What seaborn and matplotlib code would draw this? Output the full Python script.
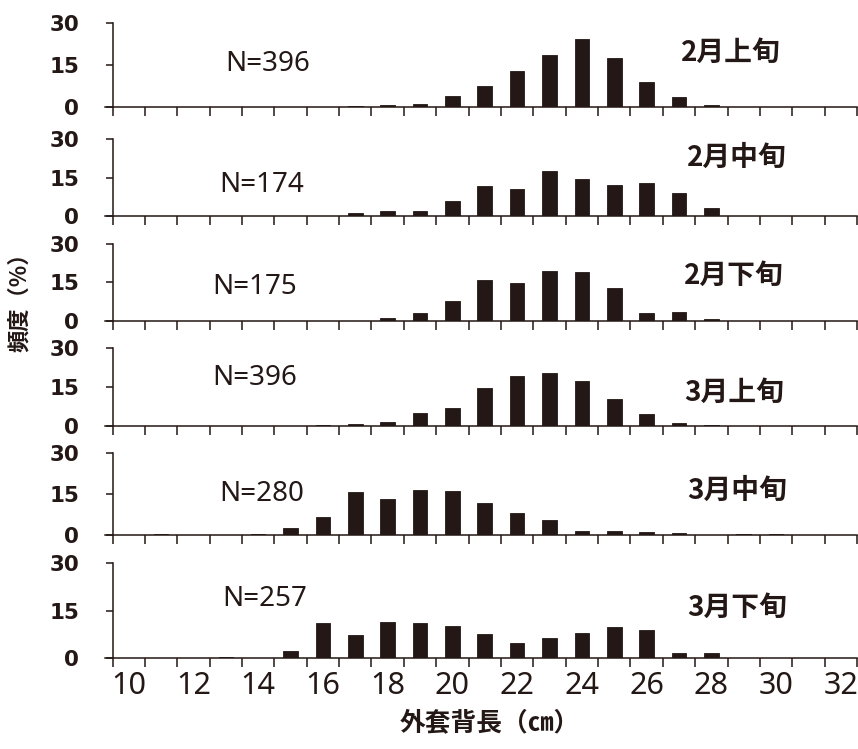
import numpy as np
import pandas as pd
import matplotlib
matplotlib.use("Agg")
import matplotlib.pyplot as plt
import seaborn as sns

sns.set_style("ticks")
plt.rcParams['font.family'] = ['DejaVu Sans', 'Noto Sans CJK JP']

# ---------------- data ----------------
lengths = list(range(10, 33))          # 外套背長 (cm) categories
tick_labels = ["10", "12", "14", "16", "18", "20", "22", "24", "26", "28", "30", "32"]
periods = ["2月上旬", "2月中旬", "2月下旬", "3月上旬", "3月中旬", "3月下旬"]
n_labels = ["N=396", "N=174", "N=175", "N=396", "N=280", "N=257"]

#              10 11 12 13 14 15  16    17    18    19    20    21    22    23    24    25    26   27   28   29    30   31 32
feb_early  = [0, 0, 0, 0, 0, 0,   0,    0.35, 0.7,  1.2,  4.2,  7.7,  13.0, 18.8, 24.3, 17.5, 9.0, 3.6, 0.8, 0.25, 0,   0, 0]
feb_mid    = [0, 0, 0, 0, 0, 0,   0,    1.3,  1.8,  1.8,  6.0,  11.7, 10.6, 17.6, 14.6, 12.3, 12.9, 8.9, 3.1, 0,  0,   0, 0]
feb_late   = [0, 0, 0, 0, 0, 0,   0,    0,    1.2,  2.9,  7.6,  15.9, 14.9, 19.6, 18.9, 12.7, 2.9, 3.4, 0.5, 0,   0,   0, 0]
mar_early  = [0, 0, 0, 0, 0, 0,   0.25, 0.8,  1.5,  5.1,  6.9,  14.4, 19.0, 20.2, 17.1, 10.2, 4.5, 1.0, 0.25, 0,  0,   0, 0]
mar_mid    = [0, 0.5, 0, 0, 0.5, 2.5, 6.5, 15.6, 13.3, 16.3, 16.0, 11.6, 8.1, 5.4, 1.7, 1.7, 1.2, 1.0, 0, 0.5, 0.5, 0, 0]
mar_late   = [0, 0, 0, 0.5, 0, 2.2, 11.1, 7.3, 11.5, 11.1, 10.2, 7.6, 4.7, 6.4, 8.1, 9.9, 8.8, 1.8, 1.8, 0,   0,   0, 0]

series = [feb_early, feb_mid, feb_late, mar_early, mar_mid, mar_late]

# annotation positions (category index, %)
n_pos = [(4.3, 15.6), (4.1, 12.2), (3.9, 13.2), (3.9, 18.2), (4.1, 15.0), (4.2, 18.6)]
p_pos = [(18.6, 19.6), (18.8, 22.7), (18.7, 17.6), (18.7, 12.6), (18.8, 16.0), (18.8, 15.9)]

# panel pixel extents (top of 30, baseline)
panel_px = [(23.3, 107.3), (139.3, 216.0), (244.0, 320.7), (347.7, 426.0), (452.7, 535.3), (563.3, 658.3)]

W, H = 858, 749
INK = '#231815'
fig = plt.figure(figsize=(W / 100, H / 100), dpi=100)

left_px, right_px = 105.4, 857.0
xlim = (-0.72, 22.5)
NUM_FONT = ["Noto Sans", "Liberation Sans", "DejaVu Sans"]
CJK_FONT = ["Noto Sans CJK JP", "DejaVu Sans"]

cat_order = [str(v) for v in lengths]
for k, (vals, (top, base)) in enumerate(zip(series, panel_px)):
    ax = fig.add_axes([left_px / W, 1 - base / H, (right_px - left_px) / W, (base - top) / H])
    df = pd.DataFrame({"length": cat_order, "freq": vals})
    sns.barplot(data=df, x="length", y="freq", order=cat_order, color=INK,
                saturation=1, width=0.45, errorbar=None, ax=ax,
                edgecolor=INK, linewidth=0.6)
    ax.set_xlim(*xlim)
    ax.set_ylim(0, 30)
    ax.set_xlabel("")
    ax.set_ylabel("")
    for s in ["top", "right"]:
        ax.spines[s].set_visible(False)
    ax.spines["left"].set_position(("data", -0.5))
    ax.spines["left"].set_bounds(0, 30)
    for s in ["left", "bottom"]:
        ax.spines[s].set_color(INK)
        ax.spines[s].set_linewidth(1.1)
    # x ticks at category boundaries
    ax.set_xticks(np.arange(-0.5, len(lengths)))
    ax.set_xticklabels([])
    ax.tick_params(axis="x", which="major", direction="out", length=6.5, width=1.1, color=INK)
    ax.set_xticks(np.arange(0, len(lengths), 2), minor=True)
    if k == len(series) - 1:
        ax.set_xticklabels(tick_labels, minor=True,
                           fontdict={"family": NUM_FONT, "size": 22, "stretch": "condensed"})
        ax.tick_params(axis="x", which="minor", length=0, pad=9, labelcolor=INK)
    else:
        ax.set_xticklabels([], minor=True)
        ax.tick_params(axis="x", which="minor", length=0)
    ax.set_yticks([0, 15, 30])
    ax.set_yticklabels(["0", "15", "30"], fontdict={"family": "DejaVu Sans", "weight": "bold", "size": 15.5})
    ax.tick_params(axis="y", direction="out", length=5, width=1.1, color=INK, pad=19, labelcolor=INK)
    ax.text(n_pos[k][0], n_pos[k][1], n_labels[k], ha="center", va="center", color=INK,
            family=NUM_FONT, fontsize=20, fontstretch="condensed")
    ax.text(p_pos[k][0], p_pos[k][1], periods[k], ha="center", va="center", color=INK,
            family=CJK_FONT, fontsize=20, fontweight="bold")

fig.text(20 / W, 1 - 297 / H, "頻度（%）", rotation=90, ha="center", va="center", color=INK,
         family=CJK_FONT, fontsize=16, fontweight="bold")
fig.text(490 / W, 1 - 723 / H, "外套背長（㎝）", ha="center", va="center", color=INK,
         family=CJK_FONT, fontsize=18.5, fontweight="bold")

fig.savefig("out.png", dpi=100)
